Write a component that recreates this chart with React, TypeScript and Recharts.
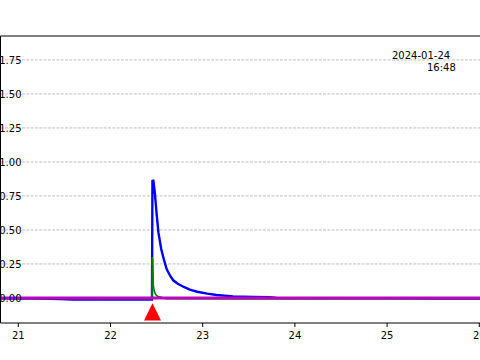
import { LineChart, Line, XAxis, YAxis, CartesianGrid, Scatter } from 'recharts';

// ---------------------------------------------------------------------------
// Data (hours of day on x, signal on y)
// ---------------------------------------------------------------------------

const blueX = [
  20.8, 21.2, 21.45, 21.6, 22.0, 22.3, 22.45, 22.455, 22.465, 22.48, 22.5, 22.52,
  22.55, 22.58, 22.61, 22.65, 22.68, 22.73, 22.79, 22.86, 22.94, 23.05, 23.15,
  23.33, 23.55, 23.73, 23.8, 24.2, 25.0, 25.5, 26.0, 26.3,
];
const blueY = [
  -0.002, -0.004, -0.008, -0.012, -0.012, -0.012, -0.012, 0.86, 0.862, 0.78, 0.62, 0.48,
  0.36, 0.28, 0.21, 0.16, 0.13, 0.105, 0.083, 0.062, 0.046, 0.032, 0.022,
  0.012, 0.008, 0.005, 0.0, -0.003, -0.002, -0.004, -0.004, -0.004,
];

const greenX = [
  20.8, 22.0, 22.45, 22.452, 22.458, 22.465, 22.475, 22.49, 22.51, 22.55, 22.6,
  23.5, 24.5, 26.3,
];
const greenY = [
  -0.003, -0.005, -0.005, 0.3, 0.28, 0.09, 0.05, 0.025, 0.012, 0.005, -0.005,
  -0.008, -0.006, -0.006,
];

const magentaX = [20.8, 26.3];
const magentaY = [0, 0];

const markerX = [22.4555];
const markerY = [-0.102];

const xTicks = [21, 22, 23, 24, 25, 26];
const yTicks = [0, 0.25, 0.5, 0.75, 1.0, 1.25, 1.5, 1.75];

const stampDate = '2024-01-24';
const stampTime = '16:48';

// ---------------------------------------------------------------------------

const FONT = '"DejaVu Sans", sans-serif';

const zip = (xs: number[], ys: number[]) => xs.map((x, i) => ({ x, y: ys[i] }));

const blueData = zip(blueX, blueY);
const greenData = zip(greenX, greenY);
const magentaData = zip(magentaX, magentaY);
const markerData = zip(markerX, markerY);

// tick labels sit just inside the left spine, partly cut off by the page edge
function YTick({ y, payload }: { y?: number; payload?: { value: number } }) {
  if (y == null || !payload) return null;
  return (
    <text x={21.5} y={y} dy={3.6} textAnchor="end" fontSize={10} fontFamily={FONT} fill="#000">
      {payload.value.toFixed(2)}
    </text>
  );
}

function Triangle({ cx, cy }: { cx?: number; cy?: number }) {
  if (cx == null || cy == null) return null;
  const pts = `${cx},${cy - 8.7} ${cx - 8.5},${cy + 8.7} ${cx + 8.5},${cy + 8.7}`;
  return <polygon points={pts} fill="#ff0000" />;
}

export default function App() {
  return (
    <div style={{ position: 'fixed', left: 0, top: 0, width: 480, height: 360, overflow: 'hidden', background: '#fff' }}>
      <LineChart width={501} height={360} margin={{ top: 35, right: 0, left: -29.5, bottom: 0 }}>
        <CartesianGrid
          vertical={false}
          syncWithTicks
          stroke="#b0b0b0"
          strokeDasharray="3 1.3"
          strokeWidth={0.8}
        />
        <XAxis
          dataKey="x"
          type="number"
          domain={[20.807, 26.2355]}
          allowDataOverflow
          ticks={xTicks}
          height={37}
          tickSize={4}
          tickMargin={4.5}
          tick={{ fill: '#000', fontSize: 10, fontFamily: FONT }}
          tickLine={{ stroke: '#000' }}
          axisLine={{ stroke: '#000' }}
        />
        <XAxis
          xAxisId="top"
          orientation="top"
          type="number"
          domain={[20.807, 26.2355]}
          allowDataOverflow
          height={1}
          tick={false}
          tickLine={false}
          axisLine={{ stroke: '#000' }}
        />
        <YAxis
          dataKey="y"
          type="number"
          domain={[-0.184, 1.926]}
          allowDataOverflow
          ticks={yTicks}
          width={30}
          tickLine={false}
          axisLine={{ stroke: '#000' }}
          tick={<YTick />}
        />
        <Line data={blueData} dataKey="y" stroke="#0000ff" strokeWidth={2.4} dot={false} isAnimationActive={false} />
        <Line data={greenData} dataKey="y" stroke="#008000" strokeWidth={1.6} dot={false} isAnimationActive={false} />
        <Line data={magentaData} dataKey="y" stroke="#bf00bf" strokeWidth={3} dot={false} isAnimationActive={false} />
        <Scatter data={markerData} dataKey="y" shape={<Triangle />} isAnimationActive={false} />
      </LineChart>
      <svg width={480} height={360} style={{ position: 'absolute', left: 0, top: 0, pointerEvents: 'none' }}>
        <text x={392} y={58.5} fontSize={10} fontFamily={FONT} fill="#000">{stampDate}</text>
        <text x={427} y={70.5} fontSize={10} fontFamily={FONT} fill="#000">{stampTime}</text>
      </svg>
    </div>
  );
}
